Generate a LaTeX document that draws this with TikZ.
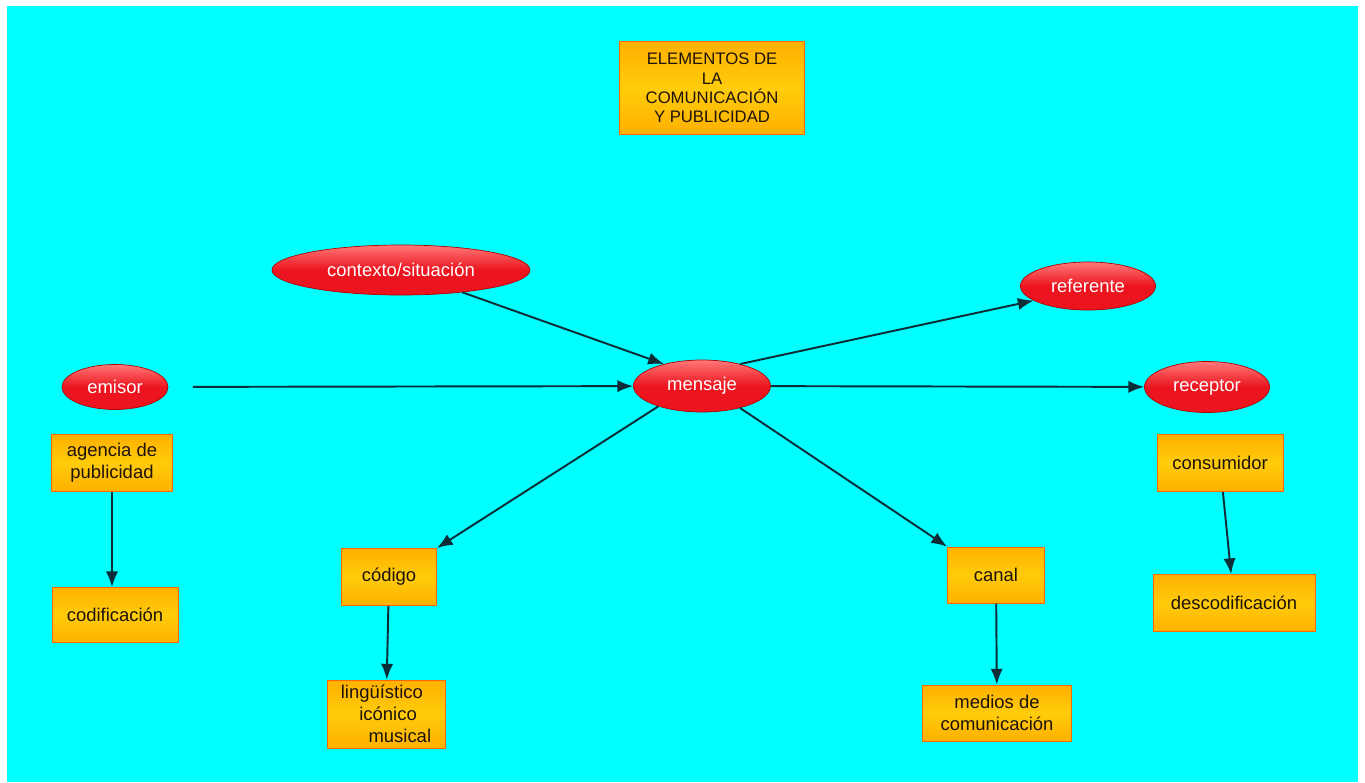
\documentclass[tikz,border=0pt]{standalone}
\usepackage{fontspec}
\setmainfont{Liberation Sans}
\usetikzlibrary{shapes.geometric,arrows.meta}
\definecolor{fondo}{RGB}{0,255,255}
\definecolor{caja}{RGB}{255,176,0}
\definecolor{cajaclara}{RGB}{255,204,10}
\definecolor{rojo}{RGB}{236,20,30}
\definecolor{rojoclaro}{RGB}{255,120,120}
\definecolor{flecha}{RGB}{10,45,55}
\tikzset{
  caja/.style={rectangle, draw=orange!80!red, line width=0.4pt,
    top color=caja, bottom color=caja, middle color=cajaclara,
    text=black!85!brown, align=center, inner sep=2pt, font=\fontsize{10.5}{12.5}\selectfont},
  globo/.style={ellipse, draw=red!70!black, line width=0.4pt,
    top color=rojoclaro, bottom color=rojo, middle color=rojo,
    text=white, inner sep=0pt, font=\fontsize{10.5}{12.5}\selectfont},
  enlace/.style={->, draw=flecha, line width=1.1pt}
}
\begin{document}
\begin{tikzpicture}[x=0.02cm, y=-0.02cm, >={Latex[length=9pt,width=7pt]}, line join=round]
        \useasboundingbox (0,0) rectangle (1365,782);
        \fill[white] (0,0) rectangle (1365,782);
        \fill[fondo] (7,6) rectangle (1358,782);
        % titulo
        \node[caja, minimum width=185*0.02cm, minimum height=93*0.02cm, font=\fontsize{9.5}{11}\selectfont] (titulo) at (712,88)
            {ELEMENTOS DE\\LA\\COMUNICACIÓN\\Y PUBLICIDAD};
        % elipses
        \node[globo, minimum width=258*0.02cm, minimum height=50*0.02cm] (contexto) at (401,270) {contexto/situación};
        \node[globo, minimum width=135*0.02cm, minimum height=48*0.02cm] (referente) at (1088,286) {referente};
        \node[globo, minimum width=106*0.02cm, minimum height=45*0.02cm] (emisor) at (115,387) {emisor};
        \node[globo, minimum width=137*0.02cm, minimum height=52*0.02cm] (mensaje) at (702,386) {mensaje};
        \node[globo, minimum width=125*0.02cm, minimum height=51*0.02cm] (receptor) at (1207,387) {receptor};
        % cajas
        \node[caja, minimum width=121*0.02cm, minimum height=57*0.02cm] (agencia) at (112,463) {agencia de\\publicidad};
        \node[caja, minimum width=126*0.02cm, minimum height=55*0.02cm] (codificacion) at (115,615) {codificación};
        \node[caja, minimum width=95*0.02cm, minimum height=57*0.02cm] (codigo) at (389,577) {código};
        \node[caja, minimum width=118*0.02cm, minimum height=68*0.02cm, align=left] (tipos) at (386,714)
            {lingüístico\\\hspace*{1em}icónico\\\hspace*{1.5em}musical};
        \node[caja, minimum width=97*0.02cm, minimum height=56*0.02cm] (canal) at (996,575) {canal};
        \node[caja, minimum width=149*0.02cm, minimum height=56*0.02cm] (medios) at (997,713) {medios de\\comunicación};
        \node[caja, minimum width=126*0.02cm, minimum height=57*0.02cm] (consumidor) at (1220,463) {consumidor};
        \node[caja, minimum width=162*0.02cm, minimum height=57*0.02cm] (descodificacion) at (1234,603) {descodificación};
        % flechas
        \draw[enlace, shorten <=14pt] (emisor) -- (mensaje);
        \draw[enlace] (contexto.-20) -- (mensaje.150);
        \draw[enlace] (mensaje.30) -- (referente.195);
        \draw[enlace] (mensaje) -- (receptor);
        \draw[enlace] (mensaje.-155) -- (codigo.north east);
        \draw[enlace] (mensaje.-30) -- (canal.north west);
        \draw[enlace] (agencia) -- (codificacion.north -| agencia);
        \draw[enlace] (codigo) -- (tipos);
        \draw[enlace] (canal) -- (medios);
        \draw[enlace] (consumidor) -- (descodificacion);
\end{tikzpicture}
\end{document}
